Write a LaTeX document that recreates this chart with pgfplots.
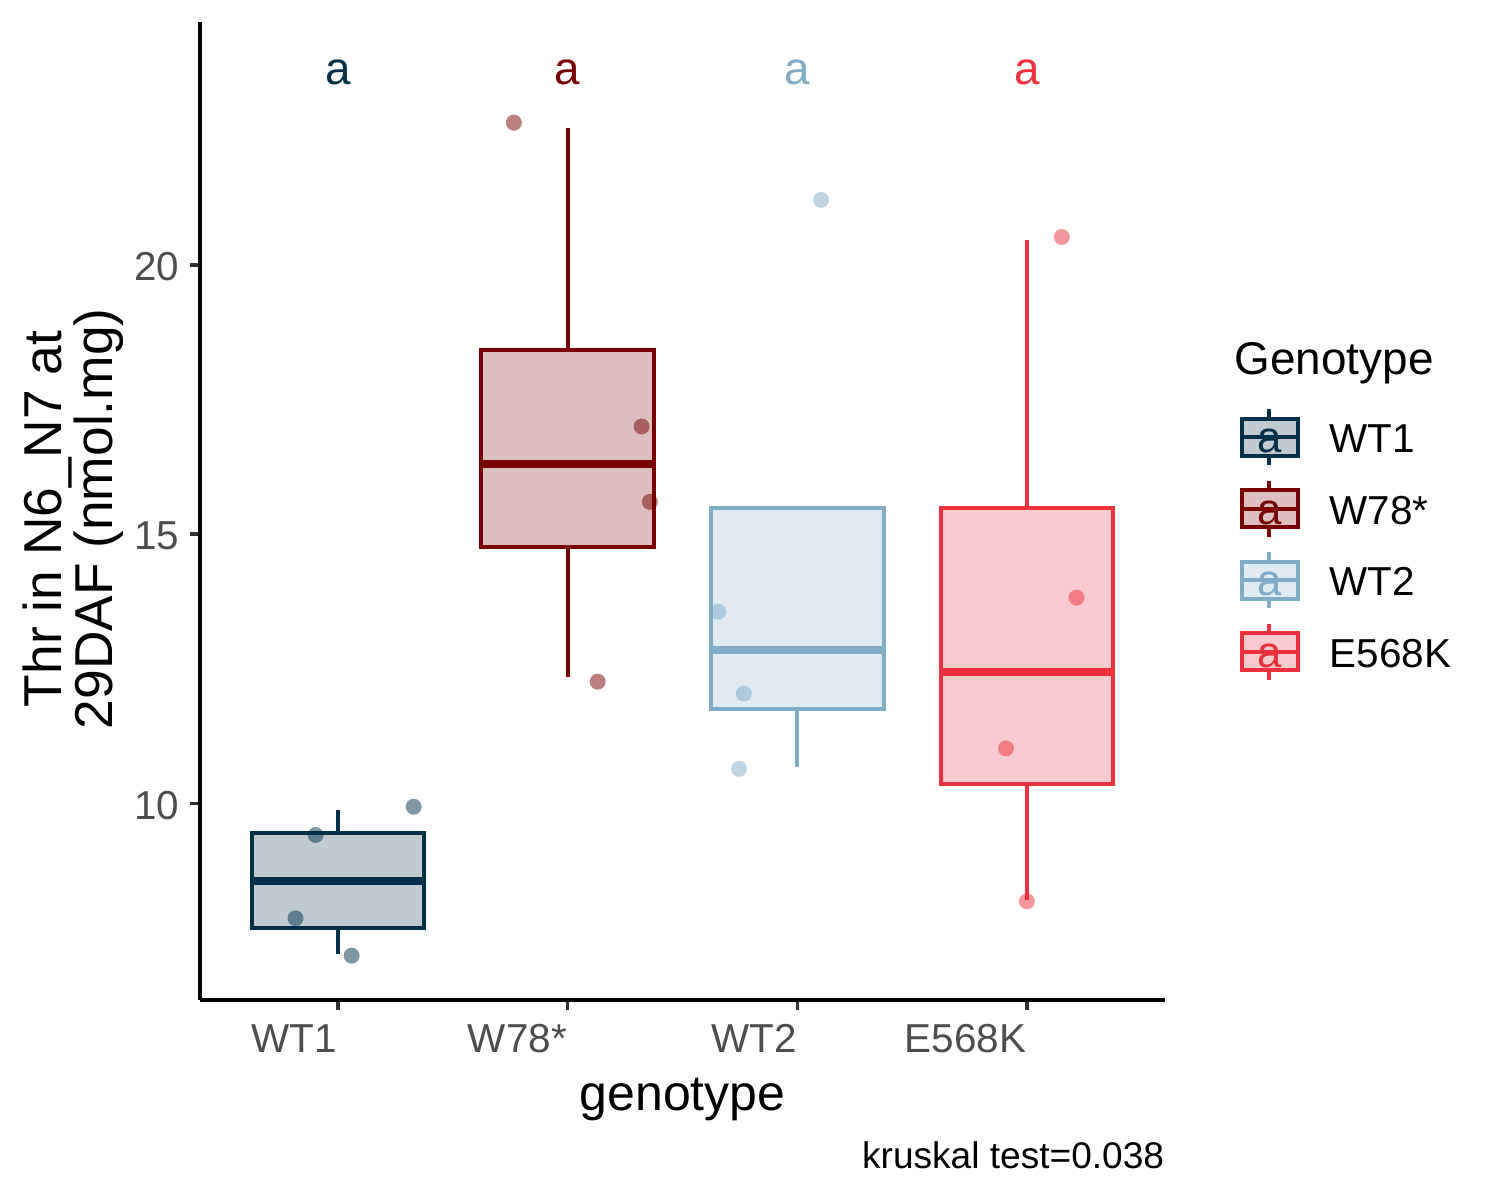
\documentclass[border=0pt]{standalone}
\usepackage{fontspec}
\setmainfont{Liberation Sans}
\usepackage{pgfplots}
\usepackage{pgfplotstable}
\pgfplotsset{compat=1.18}
\definecolor{cA}{RGB}{0,48,73}
\definecolor{cB}{RGB}{120,0,0}
\definecolor{cC}{RGB}{128,172,200}
\definecolor{cD}{RGB}{234,49,61}
\definecolor{tickgrey}{RGB}{51,51,51}
\definecolor{labgrey}{RGB}{77,77,77}
\newcommand\fsTick{\fontsize{9.7bp}{11.6bp}\selectfont}
\newcommand\fsTitle{\fontsize{12bp}{14bp}\selectfont}
\newcommand\fsYTitle{\fontsize{12.8bp}{12.2bp}\selectfont}
\newcommand\fsLegT{\fontsize{11bp}{13bp}\selectfont}
\newcommand\fsLeg{\fontsize{9.7bp}{11.6bp}\selectfont}
\newcommand\fsA{\fontsize{11bp}{13bp}\selectfont}
\newcommand\fsCap{\fontsize{8.9bp}{10.6bp}\selectfont}

\pgfplotstableread{
x y
0.903 9.411
0.816 7.864
1.060 7.169
1.330 9.937
}\ptsA
\pgfplotstableread{
x y
1.766 22.643
2.322 17.00
2.358 15.60
2.131 12.26
}\ptsB
\pgfplotstableread{
x y
2.656 13.56
2.767 12.04
2.746 10.64
3.103 21.21
}\ptsC
\pgfplotstableread{
x y
4.215 13.82
3.908 11.02
4.151 20.52
3.999 8.18
}\ptsD

\pgfplotsset{
  whisk/.style={forget plot, line width=0.95bp, mark=none},
  boxst/.style={forget plot, line width=0.95bp, mark=none, line join=miter},
  medst/.style={forget plot, line width=1.85bp, mark=none},
  jit/.style={forget plot, only marks, mark=*, mark size=1.92bp,
    mark options={draw opacity=0, fill=#1, fill opacity=0.5}},
  lett/.style={forget plot, draw=none, mark=none, nodes near coords={a}, nodes near coords align=center,
    every node near coord/.append style={anchor=center, inner sep=0pt, font=\fsA, text=#1}},
}

\begin{document}
\begin{tikzpicture}
\begin{axis}[
  at={(0,0)}, anchor=south west,
  scale only axis, width=231.6bp, height=234.72bp,
  xmin=0.4, xmax=4.6, ymin=6.346, ymax=24.514,
  axis x line*=bottom, axis y line*=left,
  axis line style={black, line width=1.05bp},
  tick align=outside, major tick length=2.5bp,
  every tick/.style={tickgrey, line width=0.8bp},
  xtick={1,2,3,4}, xticklabels={WT1,W78*,WT2,E568K},
  ytick={10,15,20},
  /pgf/number format/assume math mode=true,
  ticklabel style={font=\fsTick, text=labgrey, inner sep=0pt},
  xticklabel style={anchor=base east, yshift=-10.2bp},
  yticklabel style={anchor=east, xshift=-2.3bp, yshift=-0.5bp},
  xlabel={genotype},
  ylabel={Thr in N6\_N7 at\\29DAF (nmol.mg)},
  xlabel style={at={(axis description cs:0.5,0)}, anchor=base, yshift=-26.4bp, font=\fsTitle, inner sep=0pt},
  ylabel style={at={(axis description cs:-0.1311,0.492)}, anchor=center, font=\fsYTitle, align=center, inner sep=0pt},
  clip=false,
]
% WT1: lower whisker 7.195, Q1 7.678, median 8.562, Q3 9.443, upper whisker 9.876
\addplot[whisk, cA] coordinates {(1,7.195) (1,7.678)};
\addplot[whisk, cA] coordinates {(1,9.443) (1,9.876)};
\addplot[boxst, draw=cA, fill=cA!25] coordinates {(0.625,7.678) (1.375,7.678) (1.375,9.443) (0.625,9.443)} --cycle;
\addplot[medst, cA] coordinates {(0.625,8.562) (1.375,8.562)};
% W78*: 12.34, 14.77, 16.30, 18.42, 22.54
\addplot[whisk, cB] coordinates {(2,12.34) (2,14.77)};
\addplot[whisk, cB] coordinates {(2,18.42) (2,22.54)};
\addplot[boxst, draw=cB, fill=cB!25] coordinates {(1.625,14.77) (2.375,14.77) (2.375,18.42) (1.625,18.42)} --cycle;
\addplot[medst, cB] coordinates {(1.625,16.30) (2.375,16.30)};
% WT2: 10.67, 11.76, 12.85, 15.49, 15.49
\addplot[whisk, cC] coordinates {(3,10.67) (3,11.76)};
\addplot[boxst, draw=cC, fill=cC!25] coordinates {(2.625,11.76) (3.375,11.76) (3.375,15.49) (2.625,15.49)} --cycle;
\addplot[medst, cC] coordinates {(2.625,12.85) (3.375,12.85)};
% E568K: 8.20, 10.35, 12.44, 15.49, 20.46
\addplot[whisk, cD] coordinates {(4,8.20) (4,10.35)};
\addplot[whisk, cD] coordinates {(4,15.49) (4,20.46)};
\addplot[boxst, draw=cD, fill=cD!25] coordinates {(3.625,10.35) (4.375,10.35) (4.375,15.49) (3.625,15.49)} --cycle;
\addplot[medst, cD] coordinates {(3.625,12.44) (4.375,12.44)};

\addplot[jit=cA] table[x=x,y=y] {\ptsA};
\addplot[jit=cB] table[x=x,y=y] {\ptsB};
\addplot[jit=cC] table[x=x,y=y] {\ptsC};
\addplot[jit=cD] table[x=x,y=y] {\ptsD};

\addplot[lett=cA] coordinates {(1,23.585)};
\addplot[lett=cB] coordinates {(2,23.585)};
\addplot[lett=cC] coordinates {(3,23.585)};
\addplot[lett=cD] coordinates {(4,23.585)};
\end{axis}

\begin{scope}[x=0.24bp, y=-0.24bp, shift={(-48bp,240bp)}]
  \node[anchor=base west, inner sep=0pt, font=\fsLegT] at (1234,375) {Genotype};
  \foreach \c/\lab/\i in {cA/WT1/0, cB/W78*/1, cC/WT2/2, cD/E568K/3} {
    \pgfmathsetmacro\yc{437.3+71.5*\i}
    \draw[\c, line width=0.95bp] (1269.3,\yc-28) -- (1269.3,\yc+28);
    \draw[\c, line width=0.95bp, fill=\c!25] (1241.7,\yc-18.3) rectangle (1298.3,\yc+18.3);
    \draw[\c, line width=0.95bp] (1241.7,\yc) -- (1298.3,\yc);
    \node[text=\c, font=\fontsize{10.5bp}{12bp}\selectfont, inner sep=0pt, anchor=center] at (1269.3,\yc+4) {a};
    \node[anchor=base west, inner sep=0pt, font=\fsLeg] at (1329,\yc+15.5) {\lab};
  }
  \node[anchor=base east, inner sep=0pt, font=\fsCap] at (1165,1169) {kruskal test=0.038};
\end{scope}
\pgfresetboundingbox
\path[use as bounding box] (-48bp,-48bp) rectangle (312bp,240bp);
\end{tikzpicture}
\end{document}
